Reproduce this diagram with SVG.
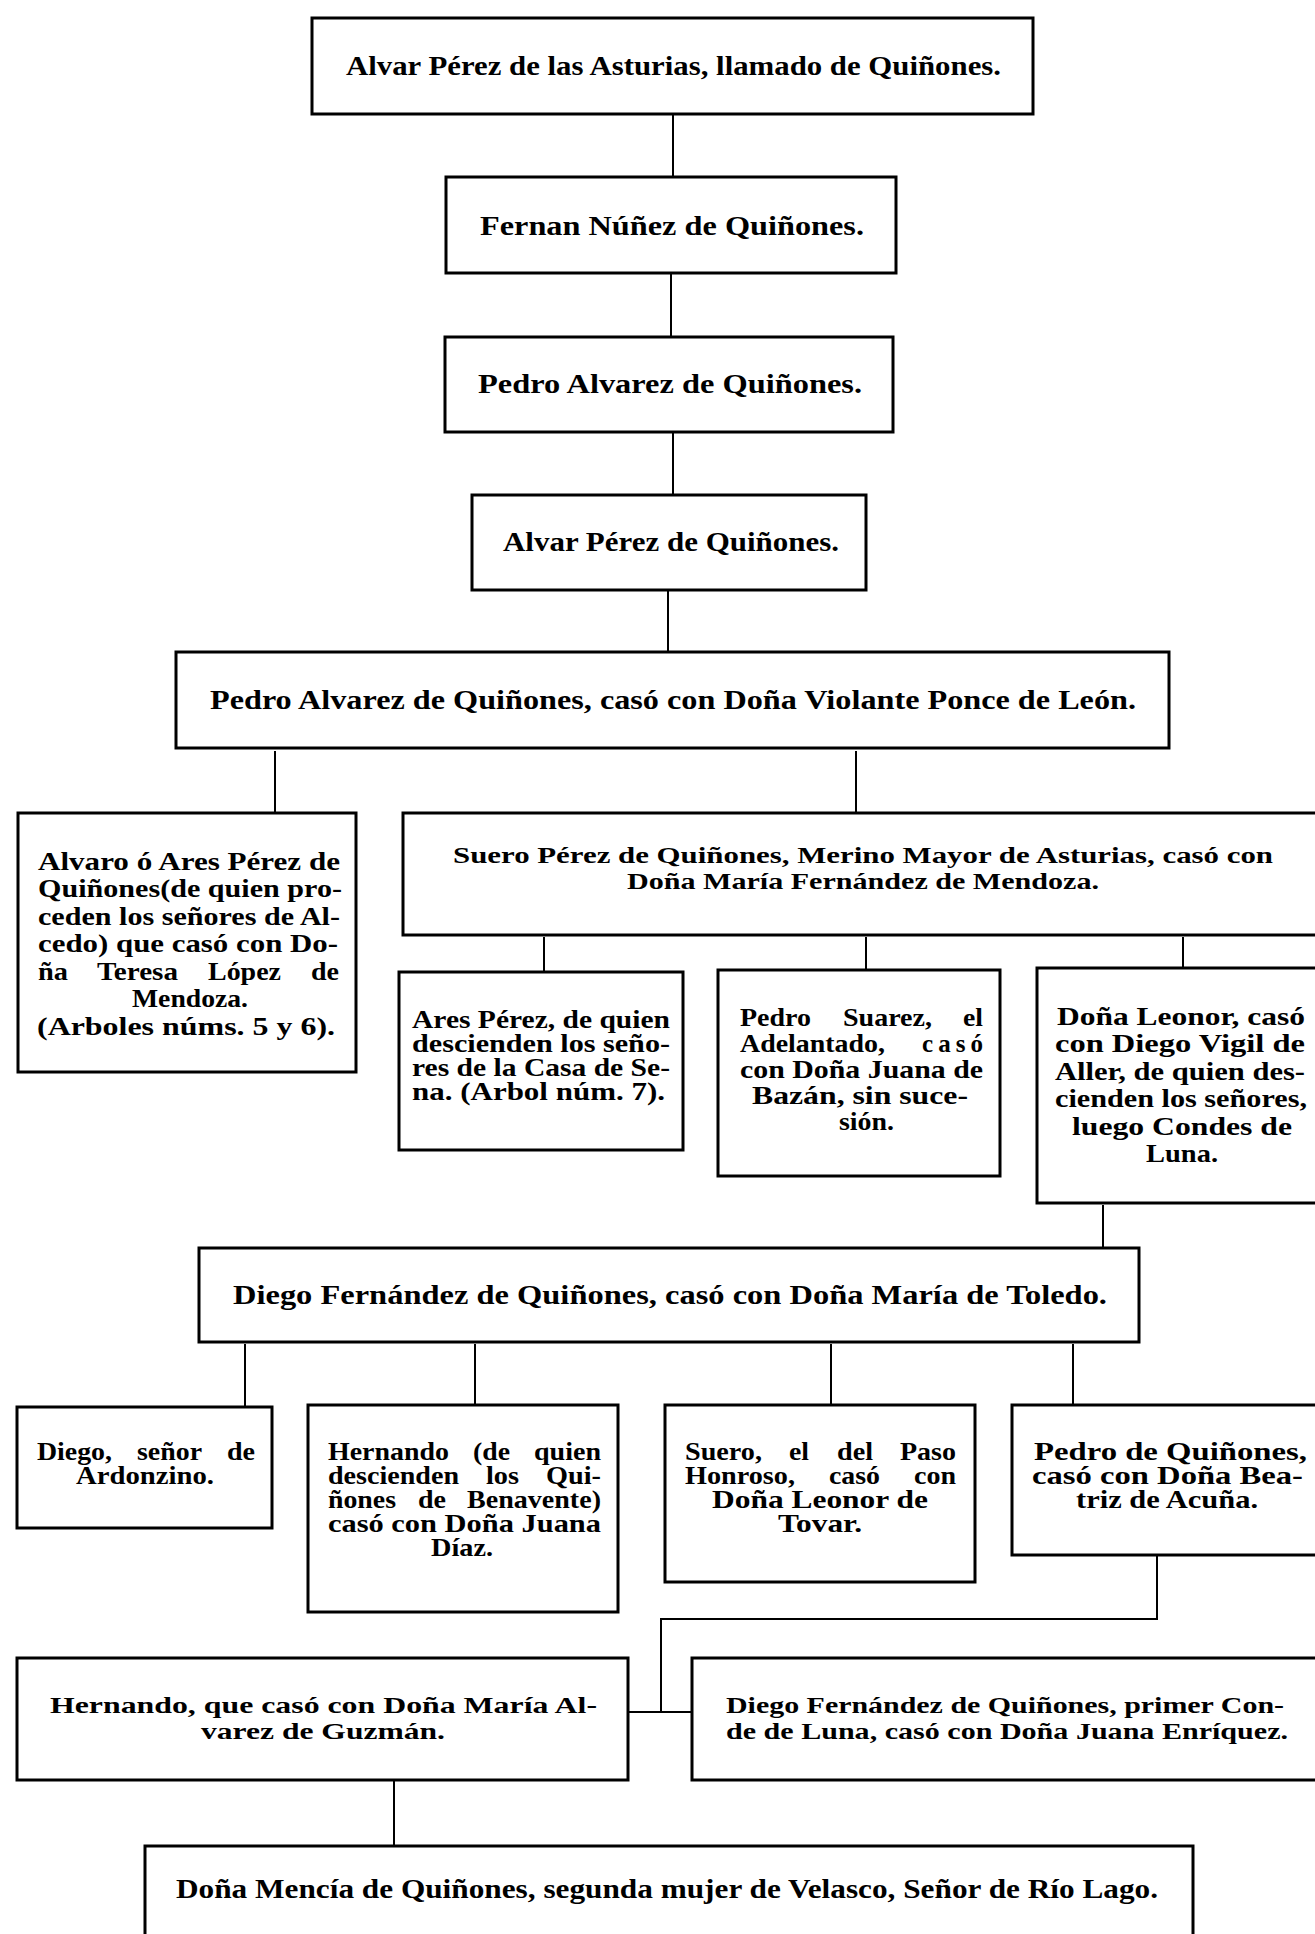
<svg xmlns="http://www.w3.org/2000/svg" width="1315" height="1934" viewBox="0 0 1315 1934">
<style>
.box{fill:#fff;stroke:#000;stroke-width:3}
.con line,.con path{stroke:#000;stroke-width:2;fill:none}
text{font-family:"Liberation Serif","Times New Roman",serif;font-weight:bold;fill:#000}
.L{font-size:27px}
.M{font-size:24px}
.S{font-size:25px}
.m{text-anchor:middle}
</style>
<rect x="0" y="0" width="1315" height="1934" fill="#fff"/>
<g id="connectors" class="con">
<line x1="673" y1="114" x2="673" y2="177"/>
<line x1="671" y1="273" x2="671" y2="337"/>
<line x1="673" y1="432" x2="673" y2="495"/>
<line x1="668" y1="590" x2="668" y2="652"/>
<line x1="275" y1="751" x2="275" y2="813"/>
<line x1="856" y1="751" x2="856" y2="813"/>
<line x1="544" y1="937" x2="544" y2="972"/>
<line x1="866" y1="937" x2="866" y2="970"/>
<line x1="1183" y1="937" x2="1183" y2="968"/>
<line x1="1103" y1="1205" x2="1103" y2="1248"/>
<line x1="245" y1="1344" x2="245" y2="1407"/>
<line x1="475" y1="1344" x2="475" y2="1405"/>
<line x1="831" y1="1344" x2="831" y2="1405"/>
<line x1="1073" y1="1344" x2="1073" y2="1405"/>
<path d="M1157 1555 V1619 H661 V1712"/>
<line x1="628" y1="1712" x2="692" y2="1712"/>
<line x1="394" y1="1780" x2="394" y2="1846"/>
</g>
<g id="n1"><rect class="box" x="312" y="18" width="721" height="96"/>
<text class="L" x="346" y="75" textLength="655" lengthAdjust="spacingAndGlyphs">Alvar Pérez de las Asturias, llamado de Quiñones.</text></g>
<g id="n2"><rect class="box" x="446" y="177" width="450" height="96"/>
<text class="L" x="480" y="235" textLength="384" lengthAdjust="spacingAndGlyphs">Fernan Núñez de Quiñones.</text></g>
<g id="n3"><rect class="box" x="445" y="337" width="448" height="95"/>
<text class="L" x="478" y="393" textLength="384" lengthAdjust="spacingAndGlyphs">Pedro Alvarez de Quiñones.</text></g>
<g id="n4"><rect class="box" x="472" y="495" width="394" height="95"/>
<text class="L" x="503" y="551" textLength="336" lengthAdjust="spacingAndGlyphs">Alvar Pérez de Quiñones.</text></g>
<g id="n5"><rect class="box" x="176" y="652" width="993" height="96"/>
<text class="L" x="210" y="709" textLength="926" lengthAdjust="spacingAndGlyphs">Pedro Alvarez de Quiñones, casó con Doña Violante Ponce de León.</text></g>
<g id="n6"><rect class="box" x="18" y="813" width="338" height="259"/>
<text class="S" x="38" y="870" textLength="302" lengthAdjust="spacingAndGlyphs">Alvaro ó Ares Pérez de</text>
<text class="S" x="38" y="897" textLength="304" lengthAdjust="spacingAndGlyphs">Quiñones(de quien pro-</text>
<text class="S" x="38" y="925" textLength="302" lengthAdjust="spacingAndGlyphs">ceden los señores de Al-</text>
<text class="S" x="38" y="952" textLength="300" lengthAdjust="spacingAndGlyphs">cedo) que casó con Do-</text>
<text class="S" y="980"><tspan x="38" textLength="30" lengthAdjust="spacingAndGlyphs">ña</tspan><tspan x="97" textLength="81" lengthAdjust="spacingAndGlyphs">Teresa</tspan><tspan x="208" textLength="73" lengthAdjust="spacingAndGlyphs">López</tspan><tspan x="311" textLength="28" lengthAdjust="spacingAndGlyphs">de</tspan></text>
<text class="S" x="132" y="1007" textLength="116" lengthAdjust="spacingAndGlyphs">Mendoza.</text>
<text class="S" x="37" y="1035" textLength="298" lengthAdjust="spacingAndGlyphs">(Arboles núms. 5 y 6).</text></g>
<g id="n7"><rect class="box" x="403" y="813" width="930" height="122"/>
<text class="M" x="453" y="863" textLength="820" lengthAdjust="spacingAndGlyphs">Suero Pérez de Quiñones, Merino Mayor de Asturias, casó con</text>
<text class="M" x="627" y="889" textLength="472" lengthAdjust="spacingAndGlyphs">Doña María Fernández de Mendoza.</text></g>
<g id="n8"><rect class="box" x="399" y="972" width="284" height="178"/>
<text class="S" x="412" y="1028" textLength="258" lengthAdjust="spacingAndGlyphs">Ares Pérez, de quien</text>
<text class="S" x="412" y="1052" textLength="258" lengthAdjust="spacingAndGlyphs">descienden los seño-</text>
<text class="S" x="412" y="1076" textLength="258" lengthAdjust="spacingAndGlyphs">res de la Casa de Se-</text>
<text class="S" x="412" y="1100" textLength="253" lengthAdjust="spacingAndGlyphs">na. (Arbol núm. 7).</text></g>
<g id="n9"><rect class="box" x="718" y="970" width="282" height="206"/>
<text class="S" y="1026"><tspan x="740" textLength="71" lengthAdjust="spacingAndGlyphs">Pedro</tspan><tspan x="843" textLength="89" lengthAdjust="spacingAndGlyphs">Suarez,</tspan><tspan x="963" textLength="20" lengthAdjust="spacingAndGlyphs">el</tspan></text>
<text class="S" x="740" y="1052" textLength="145" lengthAdjust="spacingAndGlyphs">Adelantado,</text>
<text class="S" x="922" y="1052" textLength="61" lengthAdjust="spacing">casó</text>
<text class="S" x="740" y="1078" textLength="243" lengthAdjust="spacingAndGlyphs">con Doña Juana de</text>
<text class="S" x="752" y="1104" textLength="216" lengthAdjust="spacingAndGlyphs">Bazán, sin suce-</text>
<text class="S" x="839" y="1130" textLength="55" lengthAdjust="spacingAndGlyphs">sión.</text></g>
<g id="n10"><rect class="box" x="1037" y="968" width="296" height="235"/>
<text class="S" x="1057" y="1025" textLength="248" lengthAdjust="spacingAndGlyphs">Doña Leonor, casó</text>
<text class="S" x="1055" y="1052" textLength="250" lengthAdjust="spacingAndGlyphs">con Diego Vigil de</text>
<text class="S" x="1055" y="1080" textLength="250" lengthAdjust="spacingAndGlyphs">Aller, de quien des-</text>
<text class="S" x="1055" y="1107" textLength="252" lengthAdjust="spacingAndGlyphs">cienden los señores,</text>
<text class="S" x="1072" y="1135" textLength="220" lengthAdjust="spacingAndGlyphs">luego Condes de</text>
<text class="S" x="1146" y="1162" textLength="72" lengthAdjust="spacingAndGlyphs">Luna.</text></g>
<g id="n11"><rect class="box" x="199" y="1248" width="940" height="94"/>
<text class="L" x="233" y="1304" textLength="874" lengthAdjust="spacingAndGlyphs">Diego Fernández de Quiñones, casó con Doña María de Toledo.</text></g>
<g id="n12"><rect class="box" x="17" y="1407" width="255" height="121"/>
<text class="S" y="1460"><tspan x="37" textLength="75" lengthAdjust="spacingAndGlyphs">Diego,</tspan><tspan x="137" textLength="65" lengthAdjust="spacingAndGlyphs">señor</tspan><tspan x="227" textLength="28" lengthAdjust="spacingAndGlyphs">de</tspan></text>
<text class="S" x="76" y="1484" textLength="138" lengthAdjust="spacingAndGlyphs">Ardonzino.</text></g>
<g id="n13"><rect class="box" x="308" y="1405" width="310" height="207"/>
<text class="S" y="1460"><tspan x="328" textLength="121" lengthAdjust="spacingAndGlyphs">Hernando</tspan><tspan x="473" textLength="37" lengthAdjust="spacingAndGlyphs">(de</tspan><tspan x="534" textLength="67" lengthAdjust="spacingAndGlyphs">quien</tspan></text>
<text class="S" y="1484"><tspan x="328" textLength="131" lengthAdjust="spacingAndGlyphs">descienden</tspan><tspan x="486" textLength="33" lengthAdjust="spacingAndGlyphs">los</tspan><tspan x="546" textLength="55" lengthAdjust="spacingAndGlyphs">Qui-</tspan></text>
<text class="S" y="1508"><tspan x="328" textLength="68" lengthAdjust="spacingAndGlyphs">ñones</tspan><tspan x="418" textLength="28" lengthAdjust="spacingAndGlyphs">de</tspan><tspan x="467" textLength="134" lengthAdjust="spacingAndGlyphs">Benavente)</tspan></text>
<text class="S" x="328" y="1532" textLength="273" lengthAdjust="spacingAndGlyphs">casó con Doña Juana</text>
<text class="S" x="431" y="1556" textLength="62" lengthAdjust="spacingAndGlyphs">Díaz.</text></g>
<g id="n14"><rect class="box" x="665" y="1405" width="310" height="177"/>
<text class="S" y="1460"><tspan x="685" textLength="77" lengthAdjust="spacingAndGlyphs">Suero,</tspan><tspan x="789" textLength="20" lengthAdjust="spacingAndGlyphs">el</tspan><tspan x="837" textLength="36" lengthAdjust="spacingAndGlyphs">del</tspan><tspan x="900" textLength="56" lengthAdjust="spacingAndGlyphs">Paso</tspan></text>
<text class="S" y="1484"><tspan x="685" textLength="110" lengthAdjust="spacingAndGlyphs">Honroso,</tspan><tspan x="829" textLength="51" lengthAdjust="spacingAndGlyphs">casó</tspan><tspan x="914" textLength="42" lengthAdjust="spacingAndGlyphs">con</tspan></text>
<text class="S" x="712" y="1508" textLength="216" lengthAdjust="spacingAndGlyphs">Doña Leonor de</text>
<text class="S" x="778" y="1532" textLength="84" lengthAdjust="spacingAndGlyphs">Tovar.</text></g>
<g id="n15"><rect class="box" x="1012" y="1405" width="321" height="150"/>
<text class="S" x="1034" y="1460" textLength="273" lengthAdjust="spacingAndGlyphs">Pedro de Quiñones,</text>
<text class="S" x="1032" y="1484" textLength="271" lengthAdjust="spacingAndGlyphs">casó con Doña Bea-</text>
<text class="S" x="1076" y="1508" textLength="182" lengthAdjust="spacingAndGlyphs">triz de Acuña.</text></g>
<g id="n16"><rect class="box" x="17" y="1658" width="611" height="122"/>
<text class="M" x="50" y="1713" textLength="547" lengthAdjust="spacingAndGlyphs">Hernando, que casó con Doña María Al-</text>
<text class="M" x="201" y="1739" textLength="244" lengthAdjust="spacingAndGlyphs">varez de Guzmán.</text></g>
<g id="n17"><rect class="box" x="692" y="1658" width="641" height="122"/>
<text class="M" x="726" y="1713" textLength="558" lengthAdjust="spacingAndGlyphs">Diego Fernández de Quiñones, primer Con-</text>
<text class="M" x="726" y="1739" textLength="562" lengthAdjust="spacingAndGlyphs">de de Luna, casó con Doña Juana Enríquez.</text></g>
<g id="n18"><rect class="box" x="145" y="1846" width="1048" height="120"/>
<text class="L" x="176" y="1898" textLength="982" lengthAdjust="spacingAndGlyphs">Doña Mencía de Quiñones, segunda mujer de Velasco, Señor de  Río Lago.</text></g>
</svg>
